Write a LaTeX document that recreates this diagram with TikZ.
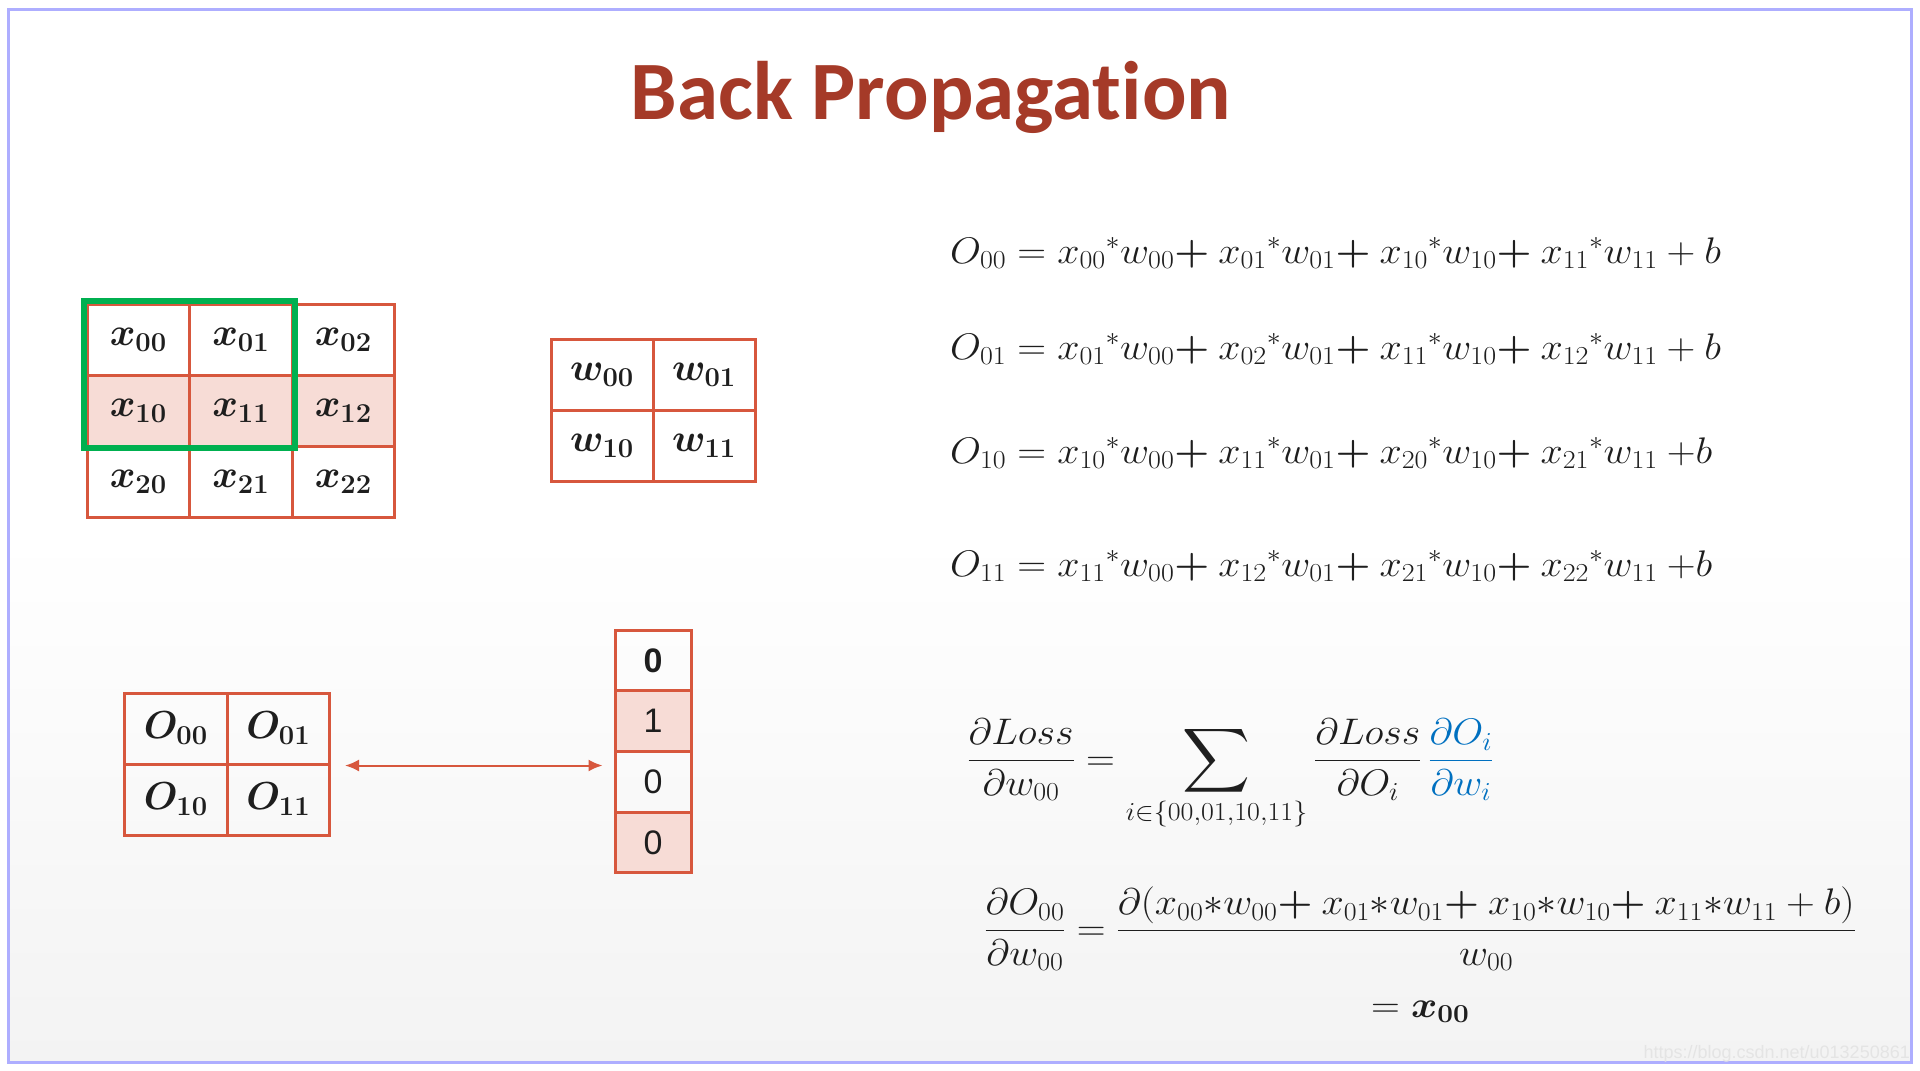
\RequirePackage{fix-cm}
\documentclass[tikz,border=0pt]{standalone}
\usepackage{amsmath,bm}
\usepackage[no-math]{fontspec}
\setmainfont{Carlito}[Ligatures=NoCommon]
\newfontfamily\arialf{Liberation Sans}
\usetikzlibrary{arrows.meta,calc}
\definecolor{ttl}{HTML}{A53A28}
\definecolor{cellred}{HTML}{D7573D}
\definecolor{cellpink}{HTML}{F7DCD6}
\definecolor{boxgreen}{HTML}{00B050}
\definecolor{mblue}{HTML}{0070C0}
\definecolor{frame}{HTML}{AEAEFF}
\definecolor{bgbot}{HTML}{F3F3F3}
\definecolor{ink}{HTML}{1E1E1E}
\definecolor{wmark}{HTML}{E4E4E4}
\newcommand\cellfont{\fontsize{39}{44}\selectfont\boldmath}
\newcommand\eqfont{\fontsize{37}{44}\selectfont}
\newcommand\pl{\mathord{\boldsymbol{+}}\ }
\newcommand\st{{}^{*}}
\newcommand\eqs[1]{\scalebox{1.08}[1]{#1}}
\newcommand\bigsum{\mathop{\vcenter{\hbox{\scalebox{1.75}[1.8]{$\displaystyle\sum$}}}}\limits}
\tikzset{
  cellbox/.style={draw=cellred, line width=3pt, inner sep=0pt, text=ink},
  xcell/.style={cellbox, minimum width=102.5pt, minimum height=71pt, font=\cellfont},
  wcell/.style={cellbox, minimum width=102pt, minimum height=71pt, font=\cellfont},
  vcell/.style={cellbox, minimum width=76pt, minimum height=60.75pt, font=\arialf\fontsize{34}{40}\selectfont},
  pinkfill/.style={fill=cellpink},
  greenbox/.style={draw=boxgreen, line width=6pt},
  eqn/.style={anchor=base west, inner sep=0pt, text=ink, font=\eqfont},
  arr/.style={draw=cellred, line width=2pt, {Latex[length=14pt,width=12pt]}-{Latex[length=14pt,width=12pt]}},
}
\begin{document}
\begin{tikzpicture}[x=1pt,y=-1pt]
\useasboundingbox (0,0) rectangle (1920,1071);
% background
\fill[white] (0,0) rectangle (1920,1071);
\shade[top color=white, bottom color=bgbot, middle color=white] (9,9) rectangle (1911,1062);
\draw[frame, line width=3pt] (8.5,9.5) rectangle (1911.5,1062);
% title
\node[anchor=base, inner sep=0pt, text=ttl, font=\fontsize{83}{96}\selectfont\bfseries] (title) at (931,119) {Back Propagation};
% X grid
\node[xcell] (x00) at (138.25,339.5) {$x_{00}$};
\node[xcell] (x01) at (240.75,339.5) {$x_{01}$};
\node[xcell] (x02) at (343.25,339.5) {$x_{02}$};
\node[xcell,pinkfill] (x10) at (138.25,410.5) {$x_{10}$};
\node[xcell,pinkfill] (x11) at (240.75,410.5) {$x_{11}$};
\node[xcell,pinkfill] (x12) at (343.25,410.5) {$x_{12}$};
\node[xcell] (x20) at (138.25,481.5) {$x_{20}$};
\node[xcell] (x21) at (240.75,481.5) {$x_{21}$};
\node[xcell] (x22) at (343.25,481.5) {$x_{22}$};
\draw[greenbox] ($(x00.north west)+(-2,-2)$) rectangle ($(x11.south east)+(1,0)$);
% W grid
\node[wcell] (w00) at (602,374.5) {$w_{00}$};
\node[wcell] (w01) at (704,374.5) {$w_{01}$};
\node[wcell] (w10) at (602,445.5) {$w_{10}$};
\node[wcell] (w11) at (704,445.5) {$w_{11}$};
% O grid
\node[xcell] (o00) at (175.75,728.5) {$O_{00}$};
\node[xcell] (o01) at (278.25,728.5) {$O_{01}$};
\node[xcell] (o10) at (175.75,799.5) {$O_{10}$};
\node[xcell] (o11) at (278.25,799.5) {$O_{11}$};
% vector
\node[vcell] (v0) at (653,660.4) {\bfseries 0};
\node[vcell,pinkfill] (v1) at (653,721.1) {1};
\node[vcell] (v2) at (653,781.9) {0};
\node[vcell,pinkfill] (v3) at (653,842.6) {0};
% arrow
\coordinate (al) at ($(o01.south east)+(14,0)$);
\coordinate (ar) at ($(al -| v0.west)+(-11,0)$);
\draw[arr] (al) -- (ar);
% equations
\node[eqn] (eq1) at (950,263) {\eqs{$O_{00} = x_{00}\st w_{00}\pl x_{01}\st w_{01}\pl x_{10}\st w_{10}\pl x_{11}\st w_{11} + b$}};
\node[eqn] (eq2) at (950,359) {\eqs{$O_{01} = x_{01}\st w_{00}\pl x_{02}\st w_{01}\pl x_{11}\st w_{10}\pl x_{12}\st w_{11} + b$}};
\node[eqn] (eq3) at (950,463) {\eqs{$O_{10} = x_{10}\st w_{00}\pl x_{11}\st w_{01}\pl x_{20}\st w_{10}\pl x_{21}\st w_{11}\ {+}b$}};
\node[eqn] (eq4) at (950,576) {\eqs{$O_{11} = x_{11}\st w_{00}\pl x_{12}\st w_{01}\pl x_{21}\st w_{10}\pl x_{22}\st w_{11}\ {+}b$}};
\node[eqn] (eq5) at (967,770) {\eqs{$\displaystyle \frac{\partial Loss}{\partial w_{00}} = \bigsum_{i\in\{00,01,10,11\}} \frac{\partial Loss}{\partial O_i}\,\textcolor{mblue}{\frac{\partial O_i}{\partial w_i}}$}};
\node[eqn] (eq6) at (984,940) {\eqs{$\displaystyle \frac{\partial O_{00}}{\partial w_{00}} = \frac{\partial(x_{00}{*}w_{00}\pl x_{01}{*}w_{01}\pl x_{10}{*}w_{10}\pl x_{11}{*}w_{11} + b)}{w_{00}}$}};
\node[eqn] (eq7) at (1371,1017) {\eqs{$= \bm{x}_{\mathbf{00}}$}};
% watermark
\node[anchor=base east, inner sep=0pt, text=wmark, font=\arialf\fontsize{18}{20}\selectfont] (wm) at (1910,1058) {https://blog.csdn.net/u013250861};
\end{tikzpicture}
\end{document}
